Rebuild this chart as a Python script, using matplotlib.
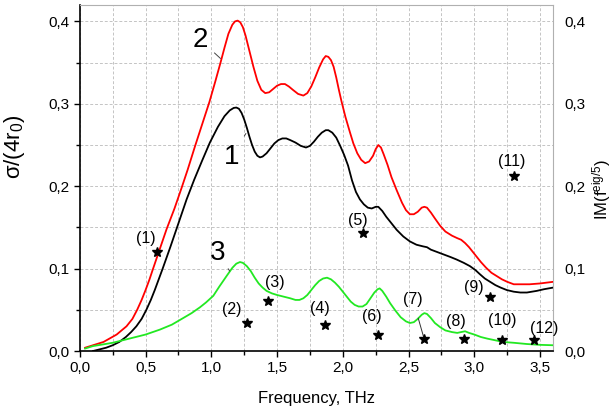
import numpy as np
import matplotlib
matplotlib.use("Agg")
import matplotlib.pyplot as plt
from matplotlib.ticker import MultipleLocator, FuncFormatter

plt.rcParams["font.family"] = ["Liberation Sans", "DejaVu Sans"]
plt.rcParams["mathtext.fontset"] = "custom"
plt.rcParams["mathtext.rm"] = "Liberation Sans"
plt.rcParams["mathtext.it"] = "Liberation Sans"

# curve 1 (black)
f1 = [0.10, 0.15, 0.20, 0.25, 0.30, 0.35, 0.39, 0.43, 0.47, 0.506, 0.54, 0.57, 0.60, 0.63,
      0.69, 0.75, 0.812, 0.87, 0.93, 0.989, 1.05, 1.10, 1.14, 1.17, 1.19, 1.21, 1.23, 1.25,
      1.27, 1.29, 1.31, 1.33, 1.35, 1.37, 1.39, 1.42, 1.45, 1.48, 1.51, 1.54, 1.57, 1.60,
      1.64, 1.68, 1.72, 1.75, 1.78, 1.81, 1.84, 1.87, 1.89, 1.92, 1.95, 1.98, 2.01, 2.04,
      2.07, 2.10, 2.13, 2.16, 2.19, 2.22, 2.25, 2.27, 2.30, 2.33, 2.37, 2.41, 2.46, 2.51,
      2.56, 2.61, 2.64, 2.67, 2.72, 2.77, 2.82, 2.866, 2.92, 2.967, 3.01, 3.044, 3.08, 3.12,
      3.16, 3.20, 3.247, 3.30, 3.35, 3.40, 3.475, 3.53, 3.60]
s1 = [0.000, 0.002, 0.004, 0.007, 0.011, 0.017, 0.023, 0.030, 0.039, 0.050, 0.062, 0.074,
      0.087, 0.100, 0.127, 0.155, 0.184, 0.208, 0.231, 0.253, 0.272, 0.285, 0.292, 0.295,
      0.2955, 0.294, 0.289, 0.281, 0.271, 0.260, 0.250, 0.242, 0.237, 0.235, 0.236, 0.240,
      0.246, 0.252, 0.256, 0.258, 0.258, 0.256, 0.253, 0.249, 0.247, 0.249, 0.254, 0.260,
      0.265, 0.268, 0.268, 0.265, 0.259, 0.249, 0.238, 0.225, 0.207, 0.193, 0.184, 0.178,
      0.174, 0.173, 0.175, 0.175, 0.170, 0.163, 0.155, 0.147, 0.139, 0.133, 0.129, 0.127,
      0.126, 0.123, 0.120, 0.117, 0.114, 0.111, 0.107, 0.103, 0.098, 0.093, 0.088, 0.084,
      0.080, 0.077, 0.074, 0.072, 0.071, 0.071, 0.073, 0.075, 0.077]

# curve 2 (red)
f2 = [0.04, 0.10, 0.18, 0.28, 0.355, 0.40, 0.436, 0.47, 0.50, 0.53, 0.553, 0.60, 0.66,
      0.72, 0.774, 0.82, 0.875, 0.93, 0.985, 1.03, 1.07, 1.10, 1.13, 1.16, 1.18, 1.20, 1.22,
      1.24, 1.26, 1.29, 1.32, 1.35, 1.38, 1.41, 1.44, 1.47, 1.50, 1.53, 1.56, 1.59, 1.62,
      1.66, 1.70, 1.73, 1.76, 1.79, 1.82, 1.85, 1.87, 1.89, 1.91, 1.93, 1.95, 1.97, 1.99,
      2.02, 2.055, 2.08, 2.11, 2.14, 2.17, 2.20, 2.23, 2.25, 2.27, 2.29, 2.31, 2.34, 2.37,
      2.41, 2.45, 2.48, 2.51, 2.54, 2.57, 2.60, 2.62, 2.64, 2.67, 2.70, 2.74, 2.78, 2.83,
      2.87, 2.90, 2.93, 2.96, 2.99, 3.02, 3.05, 3.09, 3.13, 3.17, 3.21, 3.25, 3.30, 3.36,
      3.42, 3.50, 3.60]
s2 = [0.004, 0.007, 0.011, 0.020, 0.030, 0.039, 0.050, 0.062, 0.074, 0.087, 0.098, 0.120,
      0.148, 0.173, 0.198, 0.220, 0.248, 0.275, 0.302, 0.327, 0.350, 0.368, 0.385, 0.396,
      0.400, 0.401, 0.399, 0.393, 0.383, 0.364, 0.345, 0.328, 0.317, 0.313, 0.314, 0.318,
      0.322, 0.324, 0.324, 0.321, 0.317, 0.312, 0.310, 0.313, 0.321, 0.332, 0.344, 0.354,
      0.358, 0.357, 0.353, 0.345, 0.332, 0.317, 0.303, 0.284, 0.265, 0.252, 0.240, 0.232,
      0.228, 0.230, 0.237, 0.245, 0.250, 0.247, 0.239, 0.226, 0.211, 0.195, 0.180, 0.171,
      0.166, 0.166, 0.169, 0.174, 0.175, 0.174, 0.168, 0.161, 0.152, 0.145, 0.140, 0.137,
      0.135, 0.131, 0.126, 0.120, 0.114, 0.108, 0.101, 0.095, 0.091, 0.087, 0.084, 0.081,
      0.081, 0.081, 0.082, 0.084]

# curve 3 (green)
f3 = [0.04, 0.10, 0.25, 0.40, 0.50, 0.609, 0.70, 0.786, 0.85, 0.913, 0.96, 1.015, 1.06,
      1.116, 1.16, 1.19, 1.218, 1.24, 1.27, 1.30, 1.33, 1.36, 1.39, 1.42, 1.46, 1.50, 1.55,
      1.60, 1.64, 1.67, 1.70, 1.73, 1.76, 1.79, 1.82, 1.85, 1.88, 1.91, 1.94, 1.97, 2.00,
      2.03, 2.06, 2.09, 2.12, 2.15, 2.18, 2.21, 2.24, 2.265, 2.28, 2.30, 2.33, 2.36, 2.40,
      2.44, 2.48, 2.51, 2.54, 2.57, 2.60, 2.62, 2.64, 2.67, 2.70, 2.74, 2.78, 2.83, 2.87,
      2.90, 2.93, 2.96, 3.00, 3.05, 3.10, 3.16, 3.22, 3.30, 3.40, 3.50, 3.60]
s3 = [0.003, 0.006, 0.010, 0.016, 0.020, 0.026, 0.032, 0.040, 0.046, 0.053, 0.059, 0.067,
      0.078, 0.091, 0.101, 0.106, 0.108, 0.107, 0.103, 0.097, 0.089, 0.082, 0.077, 0.073,
      0.070, 0.068, 0.066, 0.064, 0.062, 0.062, 0.064, 0.068, 0.074, 0.080, 0.085, 0.088,
      0.089, 0.087, 0.083, 0.078, 0.072, 0.066, 0.060, 0.056, 0.054, 0.054, 0.057, 0.064,
      0.071, 0.075, 0.076, 0.073, 0.066, 0.058, 0.049, 0.041, 0.036, 0.034, 0.035, 0.039,
      0.044, 0.046, 0.045, 0.040, 0.034, 0.029, 0.025, 0.023, 0.022, 0.023, 0.024, 0.022,
      0.020, 0.017, 0.015, 0.013, 0.011, 0.010, 0.0085, 0.0075, 0.007]

# eigenfrequency stars (right axis)
star_f = [0.584, 1.268, 1.428, 1.865, 2.157, 2.265, 2.618, 2.925, 3.12, 3.209, 3.305, 3.457]
star_v = [0.120, 0.034, 0.061, 0.031, 0.1435, 0.020, 0.015, 0.014, 0.065, 0.0134, 0.212, 0.0134]
star_labels = ["(%d)" % i for i in range(1, 13)]
# label offsets in points from each star
star_offsets = [(-8, 10), (-11, 10), (5, 13), (-4, 12), (-4, 9), (-4, 13), (-8, 28),
                (-6, 13), (-12, 7), (0, 14), (-2, 11), (7, 8)]

fig = plt.figure(figsize=(6.14, 4.12), dpi=100)
ax = fig.add_axes([0.130, 0.148, 0.771, 0.840])

ax.plot(f1, s1, color="black", lw=1.3, zorder=3)
ax.plot(f2, s2, color="#ff0000", lw=1.3, zorder=3)
ax.plot(f3, s3, color="#22e822", lw=1.3, zorder=3)

ax.set_xlim(0, 3.6)
ax.set_ylim(0, 0.42)

comma = FuncFormatter(lambda v, p: ("%.1f" % v).replace(".", ","))
ax.xaxis.set_major_locator(MultipleLocator(0.5))
ax.xaxis.set_minor_locator(MultipleLocator(0.25))
ax.yaxis.set_major_locator(MultipleLocator(0.1))
ax.yaxis.set_minor_locator(MultipleLocator(0.05))
ax.xaxis.set_major_formatter(comma)
ax.yaxis.set_major_formatter(comma)
ax.tick_params(which="both", direction="out", labelsize=11, top=False, right=False)
ax.tick_params(which="major", length=4, width=1)
ax.tick_params(which="minor", length=3, width=1)
ax.grid(which="both", color="#c4c4c4", linestyle=(0, (3, 2)), linewidth=0.7)
ax.set_axisbelow(True)

for side in ["top", "right"]:
    ax.spines[side].set_color("#b0b0b0")
for side in ["left", "bottom"]:
    ax.spines[side].set_linewidth(1.2)

ax.set_xlabel("Frequency, THz", fontsize=12, labelpad=11)
ax.set_ylabel(r"σ/(4r$_0$)", fontsize=16)
ax.yaxis.set_label_coords(-0.112, 0.59)

ax2 = ax.twinx()
ax2.set_ylim(0, 0.42)
ax2.yaxis.set_major_locator(MultipleLocator(0.1))
ax2.yaxis.set_major_formatter(comma)
ax2.tick_params(axis="y", length=0, labelsize=11, pad=8)
for side in ["top", "right", "left", "bottom"]:
    ax2.spines[side].set_visible(False)
# right-hand axis title, centred in the margin
fig.text(0.980, 0.54, r"IM(f$^{\rm eig/5}$)", fontsize=12, rotation=90,
         ha="center", va="center")

ax2.plot(star_f, star_v, linestyle="none", marker="*", color="black", markersize=7, zorder=4)
for x, y, lab, off in zip(star_f, star_v, star_labels, star_offsets):
    if lab == "(7)":
        ax2.annotate(lab, (x, y), xytext=off, textcoords="offset points", ha="center",
                     va="center", fontsize=11.5,
                     arrowprops=dict(arrowstyle="-", color="#333333", lw=0.7,
                                     shrinkA=6, shrinkB=2))
    else:
        ax2.annotate(lab, (x, y), xytext=off, textcoords="offset points", ha="center",
                     va="center", fontsize=11.5)

# curve numbers with leader lines
leader = dict(arrowstyle="-", color="#444444", lw=0.7, shrinkA=4, shrinkB=0)
ax.annotate("1", (1.263, 0.264), xytext=(1.154, 0.236), fontsize=20, ha="center",
            va="center", arrowprops=leader)
ax.annotate("2", (1.07, 0.355), xytext=(0.913, 0.378), fontsize=20, ha="center",
            va="center", arrowprops=leader)
ax.annotate("3", (1.14, 0.097), xytext=(1.05, 0.119), fontsize=20, ha="center",
            va="center", arrowprops=leader)

fig.savefig("out.png", dpi=100)
